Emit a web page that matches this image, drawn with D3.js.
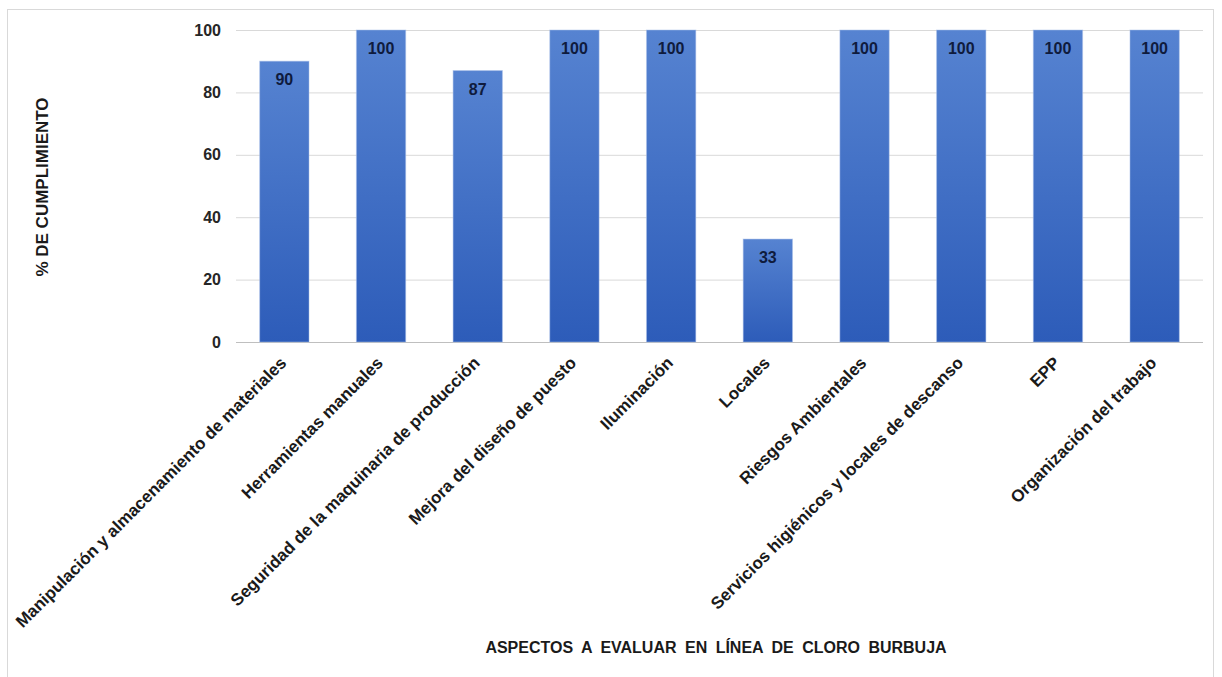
<!DOCTYPE html>
<html>
<head>
<meta charset="utf-8">
<script src="https://cdn.jsdelivr.net/npm/d3@7"></script>
<style>
  body { margin: 0; background: #fff; }
  svg { font-family: "Liberation Sans", Arial, sans-serif; }
</style>
</head>
<body>
<div class="barChart"></div>
<script>
// data
const categories = [
  "Manipulación y almacenamiento de materiales",
  "Herramientas manuales",
  "Seguridad de la maquinaria de producción",
  "Mejora del diseño de puesto",
  "Iluminación",
  "Locales",
  "Riesgos Ambientales",
  "Servicios higiénicos y locales de descanso",
  "EPP",
  "Organización del trabajo"
];
const values = [90, 100, 87, 100, 100, 33, 100, 100, 100, 100];
const yTicks = [0, 20, 40, 60, 80, 100];
const yTitle = "% DE CUMPLIMIENTO";
const xTitle = "ASPECTOS A EVALUAR EN LÍNEA DE CLORO BURBUJA";

const W = 1222, H = 677;
const margin = { top: 30, right: 19, bottom: 335, left: 236 };
const width = W - margin.left - margin.right,
  height = H - margin.top - margin.bottom;

const svg = d3.select(".barChart").append("svg")
  .attr("width", W)
  .attr("height", H);

// outer frame
svg.append("rect")
  .attr("x", 7.5).attr("y", 9.5)
  .attr("width", 1206).attr("height", 680)
  .attr("fill", "none")
  .attr("stroke", "#d9d9d9");

const defs = svg.append("defs");
const grad = defs.append("linearGradient")
  .attr("id", "barGrad")
  .attr("x1", 0).attr("y1", 0).attr("x2", 0).attr("y2", 1);
grad.append("stop").attr("offset", "0%").attr("stop-color", "#5683d1");
grad.append("stop").attr("offset", "100%").attr("stop-color", "#2d5cb9");

const g = svg.append("g")
  .attr("transform", "translate(" + margin.left + "," + margin.top + ")");

const x = d3.scaleBand()
  .domain(categories)
  .range([0, width])
  .paddingInner(0.49)
  .paddingOuter(0.245);

const y = d3.scaleLinear()
  .domain([0, 100])
  .range([height, 0]);

// gridlines
g.append("g")
  .selectAll("line")
  .data(yTicks)
  .enter().append("line")
  .attr("x1", 0).attr("x2", width)
  .attr("y1", d => y(d) + 0.5).attr("y2", d => y(d) + 0.5)
  .attr("stroke", d => d === 0 ? "#bfbfbf" : "#d9d9d9");

// y axis labels
const yAxis = g.append("g")
  .call(d3.axisLeft(y).tickValues(yTicks).tickSize(0).tickPadding(15));
yAxis.select(".domain").remove();
yAxis.selectAll("text")
  .attr("font-size", 16)
  .attr("font-weight", "bold")
  .attr("fill", "#262626")
  .attr("font-family", "Liberation Sans, Arial, sans-serif");

// bars
g.selectAll(".bar")
  .data(values)
  .enter().append("rect")
  .attr("class", "bar")
  .attr("x", (d, i) => x(categories[i]))
  .attr("width", x.bandwidth())
  .attr("y", d => y(d))
  .attr("height", d => height - y(d))
  .attr("fill", "url(#barGrad)")
  .attr("stroke", "#a9c0ea")
  .attr("stroke-opacity", 0.5)
  .attr("stroke-width", 1);

// value labels
g.selectAll(".val")
  .data(values)
  .enter().append("text")
  .attr("class", "val")
  .attr("x", (d, i) => x(categories[i]) + x.bandwidth() / 2)
  .attr("y", d => y(d) + 24)
  .attr("text-anchor", "middle")
  .attr("font-size", 16)
  .attr("font-weight", "bold")
  .attr("fill", "#0f1b3d")
  .text(d => d);

// x axis labels
const xAxis = g.append("g")
  .attr("transform", "translate(0," + height + ")")
  .call(d3.axisBottom(x).tickSize(0).tickPadding(0));
xAxis.select(".domain").remove();
xAxis.selectAll("text")
  .attr("font-size", 17)
  .attr("font-weight", "bold")
  .attr("fill", "#1a1a1a")
  .attr("font-family", "Liberation Sans, Arial, sans-serif")
  .attr("text-anchor", "end")
  .attr("dy", "0")
  .attr("y", 0)
  .attr("transform", "translate(3,22) rotate(-45)");

// axis titles
svg.append("text")
  .attr("transform", "translate(48,187) rotate(-90)")
  .attr("text-anchor", "middle")
  .attr("font-size", 17)
  .attr("font-weight", "bold")
  .attr("fill", "#1a1a1a")
  .text(yTitle);

svg.append("text")
  .attr("x", 716)
  .attr("y", 653)
  .attr("text-anchor", "middle")
  .attr("font-size", 16)
  .attr("font-weight", "bold")
  .attr("fill", "#1a1a1a")
  .attr("word-spacing", 4)
  .text(xTitle);
</script>
</body>
</html>
